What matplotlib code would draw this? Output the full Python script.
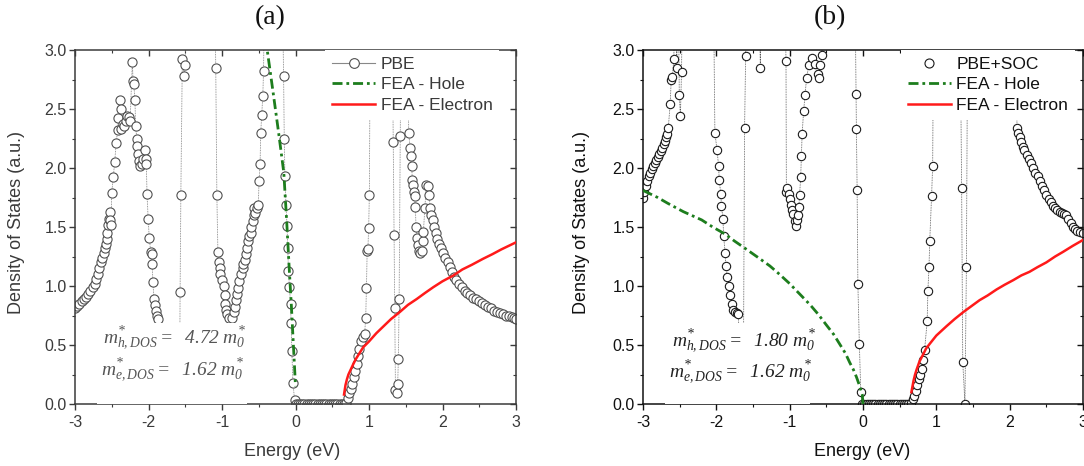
import matplotlib
matplotlib.use('Agg')
import matplotlib.pyplot as plt
from matplotlib.lines import Line2D
from matplotlib.patches import Rectangle
from matplotlib.ticker import MultipleLocator, FormatStrFormatter

plt.rcParams['font.family'] = ['Liberation Sans', 'DejaVu Sans']
plt.rcParams['axes.unicode_minus'] = False
plt.rcParams['mathtext.fontset'] = 'custom'
plt.rcParams['mathtext.rm'] = 'Liberation Serif:italic'
plt.rcParams['mathtext.it'] = 'Liberation Serif:italic'
plt.rcParams['mathtext.bf'] = 'Liberation Serif:bold'

# ---------------- data: panel (a) PBE ----------------
pbe_a_E = [-3.00, -2.97, -2.94, -2.91, -2.88, -2.85, -2.82, -2.79, -2.76, -2.73,
           -2.71, -2.69, -2.67, -2.65, -2.63, -2.61, -2.59, -2.58, -2.57, -2.56,
           -2.55, -2.54, -2.53, -2.52, -2.51, -2.50, -2.48, -2.46, -2.44, -2.42,
           -2.41, -2.39, -2.38, -2.37, -2.35, -2.33, -2.31, -2.29, -2.27, -2.25,
           -2.22, -2.21, -2.20, -2.185, -2.175, -2.16, -2.15, -2.14, -2.13, -2.11,
           -2.09, -2.07, -2.05, -2.04, -2.03, -2.02, -2.005, -1.99, -1.97, -1.955,
           -1.95, -1.94, -1.925, -1.91, -1.895, -1.88, -1.865, -1.85,
           -1.575, -1.57, -1.56, -1.54, -1.52, -1.50, -1.49,
           -1.10, -1.085, -1.07, -1.056, -1.047, -1.033, -1.024, -1.00, -0.976, -0.962,
           -0.953, -0.944, -0.93, -0.906, -0.86, -0.835, -0.82, -0.81, -0.79, -0.78,
           -0.765, -0.74, -0.72, -0.71, -0.69, -0.68, -0.66, -0.65, -0.63, -0.61,
           -0.60, -0.585, -0.567, -0.56, -0.553, -0.53, -0.506, -0.496, -0.482, -0.473,
           -0.459, -0.445, -0.435, -0.42,
           -0.18, -0.162, -0.153, -0.144, -0.13, -0.115, -0.106, -0.096, -0.082, -0.068,
           -0.06, -0.05, -0.035, -0.012,
           0.00, 0.03, 0.06, 0.09, 0.12, 0.15, 0.18, 0.21, 0.24, 0.27, 0.30, 0.33,
           0.36, 0.39, 0.42, 0.45, 0.48, 0.51, 0.54, 0.57, 0.60, 0.63, 0.66,
           0.69, 0.71, 0.73, 0.75, 0.77, 0.79, 0.81, 0.83, 0.85, 0.87,
           0.89, 0.915, 0.94, 0.955, 0.965, 0.975, 0.985, 0.995, 1.005, 1.02,
           1.31, 1.33, 1.34, 1.35, 1.36, 1.375, 1.39, 1.40, 1.41, 1.425, 1.44,
           1.52, 1.54, 1.56, 1.57, 1.58, 1.59, 1.60, 1.61, 1.62, 1.63,
           1.64, 1.65, 1.66, 1.68, 1.70, 1.72, 1.73, 1.74, 1.76, 1.78,
           1.80, 1.82, 1.83, 1.85, 1.87, 1.89, 1.91, 1.93, 1.95, 1.98,
           2.01, 2.04, 2.07, 2.10, 2.13, 2.16, 2.19, 2.22, 2.26, 2.30,
           2.34, 2.38, 2.42, 2.46, 2.50, 2.54, 2.58, 2.62, 2.66, 2.70,
           2.74, 2.78, 2.82, 2.86, 2.90, 2.94, 2.97, 3.00]
pbe_a_D = [0.81, 0.83, 0.85, 0.87, 0.89, 0.91, 0.93, 0.96, 0.99, 1.02,
           1.06, 1.10, 1.15, 1.20, 1.24, 1.28, 1.32, 1.36, 1.40, 1.45,
           1.52, 1.57, 1.63, 1.56, 1.52, 1.79, 1.92, 2.05, 2.21, 2.32,
           2.42, 2.58, 2.50, 2.33, 2.37, 2.36, 2.40, 2.44, 2.43, 2.40,
           2.90, 2.74, 2.71, 2.58, 2.36, 2.25, 2.19, 2.12, 2.06, 2.02,
           2.03, 2.08, 2.15, 2.08, 2.03, 1.78, 1.57, 1.41, 1.29, 1.27,
           1.19, 1.03, 0.89, 0.84, 0.79, 0.75, 0.72, 0.40,
           0.40, 0.95, 1.77, 2.92, 2.78, 2.87, 3.60,
           3.60, 2.85, 1.77, 1.29, 1.20, 1.15, 1.10, 1.05, 1.00, 0.92,
           0.85, 0.80, 0.76, 0.73, 0.73, 0.78, 0.82, 0.88, 0.93, 0.98,
           1.04, 1.10, 1.15, 1.19, 1.22, 1.27, 1.32, 1.38, 1.42, 1.45,
           1.50, 1.55, 1.60, 1.66, 1.62, 1.66, 1.69, 1.89, 2.03, 2.30,
           2.45, 2.61, 2.82, 3.60,
           3.60, 2.78, 2.25, 1.93, 1.69, 1.51, 1.32, 1.13, 0.99, 0.85,
           0.69, 0.45, 0.18, 0.03,
           0.00, 0.00, 0.00, 0.00, 0.00, 0.00, 0.00, 0.00, 0.00, 0.00, 0.00, 0.00,
           0.00, 0.00, 0.00, 0.00, 0.00, 0.00, 0.00, 0.00, 0.00, 0.00, 0.00,
           0.01, 0.05, 0.09, 0.13, 0.17, 0.23, 0.28, 0.34, 0.41, 0.47,
           0.53, 0.57, 0.59, 0.73, 0.98, 1.30, 1.31, 1.49, 1.77, 3.60,
           3.60, 2.22, 1.43, 0.81, 0.12, 0.09, 0.17, 0.38, 0.89, 2.27, 3.60,
           3.60, 2.30, 2.17, 2.10, 2.02, 1.90, 1.86, 1.80, 1.76, 1.67,
           1.50, 1.41, 1.35, 1.30, 1.28, 1.30, 1.38, 1.46, 1.66, 1.86,
           1.85, 1.77, 1.66, 1.60, 1.56, 1.50, 1.45, 1.40, 1.36, 1.32,
           1.28, 1.24, 1.20, 1.16, 1.12, 1.08, 1.05, 1.02, 0.99, 0.96,
           0.94, 0.92, 0.90, 0.89, 0.87, 0.86, 0.84, 0.82, 0.81, 0.79,
           0.78, 0.77, 0.76, 0.75, 0.75, 0.74, 0.73, 0.72]

hole_a_E = [-0.42, -0.385, -0.30, -0.23, -0.159, -0.12, -0.082, -0.055, -0.032, -0.012, 0.0]
hole_a_D = [3.10, 3.00, 2.62, 2.30, 1.96, 1.55, 1.11, 0.82, 0.54, 0.30, 0.15]
elec_a_E = [0.66, 0.67, 0.68, 0.70, 0.72, 0.75, 0.78, 0.82, 0.86, 0.92, 1.00, 1.10, 1.20,
            1.30, 1.42, 1.53, 1.65, 1.76, 1.875, 2.00, 2.15, 2.27, 2.40, 2.55, 2.68, 2.80,
            2.90, 3.00]
elec_a_D = [0.08, 0.12, 0.16, 0.21, 0.25, 0.29, 0.33, 0.38, 0.42, 0.48, 0.53, 0.60, 0.66,
            0.72, 0.78, 0.84, 0.89, 0.94, 0.99, 1.04, 1.09, 1.14, 1.18, 1.23, 1.27, 1.31,
            1.34, 1.37]

# ---------------- data: panel (b) PBE+SOC ----------------
pbe_b_E = [-3.00, -2.98, -2.96, -2.94, -2.92, -2.90, -2.88, -2.86, -2.84, -2.82,
           -2.80, -2.78, -2.76, -2.74, -2.72, -2.70, -2.68, -2.67, -2.655, -2.63,
           -2.615, -2.60, -2.58, -2.56, -2.54, -2.52, -2.505, -2.49, -2.475, -2.46,
           -2.04, -2.02, -1.99, -1.97, -1.96, -1.94, -1.93, -1.91, -1.90, -1.88,
           -1.87, -1.85, -1.83, -1.81, -1.79, -1.77, -1.745, -1.72, -1.70, -1.68,
           -1.63, -1.615, -1.60, -1.59, -1.42, -1.40, -1.38,
           -1.07, -1.05, -1.045, -1.03, -1.01, -1.00, -0.98, -0.97, -0.95, -0.93,
           -0.91, -0.90, -0.89, -0.875, -0.865, -0.85, -0.84, -0.83, -0.81, -0.79,
           -0.77, -0.74, -0.70, -0.66, -0.62, -0.60, -0.58, -0.56, -0.54,
           -0.11, -0.095, -0.09, -0.08, -0.07, -0.05, -0.03,
           -0.01, 0.02, 0.05, 0.08, 0.11, 0.14, 0.17, 0.20, 0.23, 0.26, 0.29,
           0.32, 0.35, 0.38, 0.41, 0.44, 0.47, 0.50, 0.53, 0.56, 0.59, 0.62,
           0.66, 0.68, 0.70, 0.72, 0.74, 0.76, 0.78, 0.80, 0.815, 0.84,
           0.875, 0.885, 0.90, 0.91, 0.935, 0.95, 0.965,
           1.32, 1.345, 1.36, 1.39, 1.41, 1.43,
           2.08, 2.10, 2.12, 2.14, 2.16, 2.18, 2.20, 2.23, 2.26, 2.29,
           2.32, 2.35, 2.38, 2.41, 2.44, 2.47, 2.50, 2.53, 2.56, 2.59,
           2.62, 2.65, 2.68, 2.71, 2.74, 2.77, 2.80, 2.83, 2.86, 2.89,
           2.92, 2.96, 3.00]
pbe_b_D = [1.75, 1.80, 1.85, 1.89, 1.93, 1.96, 1.99, 2.02, 2.04, 2.07,
           2.09, 2.12, 2.14, 2.17, 2.20, 2.23, 2.26, 2.29, 2.34, 2.54,
           2.75, 2.77, 2.92, 3.60, 2.85, 3.60, 2.62, 2.44, 2.81, 3.60,
           3.60, 2.30, 2.15, 2.02, 1.90, 1.78, 1.68, 1.57, 1.42, 1.28,
           1.17, 1.08, 1.00, 0.92, 0.85, 0.80, 0.78, 0.77, 0.76, 0.40,
           0.40, 2.34, 2.95, 3.60, 3.60, 2.85, 3.60,
           3.60, 2.91, 1.80, 1.83, 1.78, 1.74, 1.69, 1.64, 1.61, 1.55,
           1.51, 1.56, 1.60, 1.67, 1.77, 1.92, 2.10, 2.29, 2.48, 2.62,
           2.76, 2.87, 2.93, 2.88, 2.80, 2.76, 2.87, 2.96, 3.60,
           3.60, 2.63, 2.33, 1.81, 1.02, 0.51, 0.10,
           0.00, 0.00, 0.00, 0.00, 0.00, 0.00, 0.00, 0.00, 0.00, 0.00, 0.00,
           0.00, 0.00, 0.00, 0.00, 0.00, 0.00, 0.00, 0.00, 0.00, 0.00, 0.00,
           0.01, 0.04, 0.07, 0.11, 0.16, 0.21, 0.25, 0.30, 0.37, 0.46,
           0.70, 0.96, 1.16, 1.38, 1.76, 2.02, 3.60,
           3.60, 1.83, 0.36, 0.00, 1.16, 3.60,
           3.60, 2.34, 2.30, 2.26, 2.22, 2.18, 2.15, 2.11, 2.08, 2.04,
           2.00, 1.96, 1.93, 1.89, 1.85, 1.81, 1.77, 1.74, 1.71, 1.68,
           1.66, 1.64, 1.63, 1.62, 1.61, 1.60, 1.57, 1.53, 1.50, 1.48,
           1.47, 1.46, 1.45]

hole_b_E = [-3.00, -2.80, -2.66, -2.45, -2.20, -2.05, -1.88, -1.75, -1.61, -1.45, -1.27,
            -1.14, -1.00, -0.86, -0.72, -0.61, -0.50, -0.40, -0.31, -0.24, -0.18, -0.13,
            -0.09, -0.05, -0.03, -0.01, 0.0]
hole_b_D = [1.81, 1.75, 1.70, 1.63, 1.56, 1.50, 1.44, 1.38, 1.32, 1.25, 1.17,
            1.10, 1.02, 0.93, 0.84, 0.76, 0.67, 0.59, 0.50, 0.43, 0.35, 0.29,
            0.23, 0.16, 0.12, 0.08, 0.0]
elec_b_E = [0.66, 0.675, 0.69, 0.71, 0.73, 0.77, 0.82, 0.86, 0.91, 1.00, 1.07, 1.14, 1.25,
            1.37, 1.48, 1.59, 1.70, 1.82, 1.93, 2.05, 2.16, 2.27, 2.38, 2.50, 2.62, 2.73,
            2.86, 3.00]
elec_b_D = [0.10, 0.15, 0.20, 0.25, 0.29, 0.36, 0.42, 0.47, 0.51, 0.58, 0.62, 0.66, 0.72,
            0.78, 0.83, 0.88, 0.92, 0.97, 1.01, 1.05, 1.09, 1.12, 1.16, 1.20, 1.25, 1.29,
            1.34, 1.39]

x_ticks = [-3, -2, -1, 0, 1, 2, 3]
titles = ['(a)', '(b)']
legend_a = ['PBE', 'FEA - Hole', 'FEA - Electron']
legend_b = ['PBE+SOC', 'FEA - Hole', 'FEA - Electron']
notes_a = [r'$m^{*}_{h,DOS}=\ \ 4.72\ m^{*}_{0}$', r'$m^{*}_{e,DOS}=\ \ 1.62\ m^{*}_{0}$']
notes_b = [r'$m^{*}_{h,DOS}=\ \ 1.80\ m^{*}_{0}$', r'$m^{*}_{e,DOS}=\ \ 1.62\ m^{*}_{0}$']

W, H = 1084, 466
fig = plt.figure(figsize=(W / 100, H / 100), dpi=100)


def add_ax(l, r, t, b):
    return fig.add_axes([l / W, 1 - b / H, (r - l) / W, (b - t) / H])


GREEN = '#1d7d1d'
RED = '#ff1a1a'
DASHDOT = (0, (3.6, 1.4, 1.0, 1.4))


def style(ax, col):
    ax.set_xlim(-3, 3)
    ax.set_ylim(0, 3)
    ax.set_xticks(x_ticks)
    ax.xaxis.set_minor_locator(MultipleLocator(0.5))
    ax.yaxis.set_major_locator(MultipleLocator(0.5))
    ax.yaxis.set_minor_locator(MultipleLocator(0.25))
    ax.yaxis.set_major_formatter(FormatStrFormatter('%.1f'))
    ax.tick_params(which='both', direction='out', colors=col, labelcolor=col,
                   labelsize=11.5, top=False, right=False)
    ax.tick_params(which='major', length=4, width=1.0)
    ax.tick_params(which='minor', length=2.5, width=0.8)
    ax.tick_params(axis='y', pad=2)
    ax.tick_params(axis='x', pad=4)
    for s in ax.spines.values():
        s.set_color(col)
        s.set_linewidth(1.1)
    top = ax.secondary_xaxis('top')
    top.set_xticks(x_ticks)
    top.xaxis.set_minor_locator(MultipleLocator(0.5))
    top.tick_params(which='both', direction='in', labeltop=False, colors=col)
    top.tick_params(which='major', length=4, width=1.0)
    top.tick_params(which='minor', length=2.5, width=0.8)
    top.spines['top'].set_visible(False)
    rgt = ax.secondary_yaxis('right')
    rgt.yaxis.set_major_locator(MultipleLocator(0.5))
    rgt.yaxis.set_minor_locator(MultipleLocator(0.25))
    rgt.tick_params(which='both', direction='in', labelright=False, colors=col)
    rgt.tick_params(which='major', length=4, width=1.0)
    rgt.tick_params(which='minor', length=2.5, width=0.8)
    rgt.spines['right'].set_visible(False)


panels = [
    dict(ax=add_ax(75, 516, 50, 404), col='#3a3a3a', E=pbe_a_E, D=pbe_a_D,
         hE=hole_a_E, hD=hole_a_D, eE=elec_a_E, eD=elec_a_D, mec='#505050',
         lcol='#7a7a7a', ms=6.6, labels=legend_a, notes=notes_a, ncol='#555555',
         nx=[-2.62, -2.65], ny=[0.56, 0.29], box=(-2.7, -0.66), legx=0.567,
         title_x=270, ylab_x=-0.113, xlab_x=0.492, pbe_line=True),
    dict(ax=add_ax(643, 1083, 50, 404), col='#111111', E=pbe_b_E, D=pbe_b_D,
         hE=hole_b_E, hD=hole_b_D, eE=elec_b_E, eD=elec_b_D, mec='#1a1a1a',
         lcol='#555555', ms=6.0, labels=legend_b, notes=notes_b, ncol='#222222',
         nx=[-2.60, -2.65], ny=[0.53, 0.27], box=(-2.7, -0.72), legx=0.586,
         title_x=830, ylab_x=-0.12, xlab_x=0.498, pbe_line=False),
]

for i, p in enumerate(panels):
    ax = p['ax']
    style(ax, p['col'])
    ax.plot(p['E'], p['D'], ls=(0, (1, 1)), lw=0.6, color=p['lcol'], zorder=2)
    ax.plot(p['E'], p['D'], ls='none', marker='o', ms=p['ms'], mfc='white',
            mec=p['mec'], mew=0.8, zorder=2.5)
    bx0, bx1 = p['box']
    ax.add_patch(Rectangle((bx0, 0.0), bx1 - bx0, 0.69, fc='white', ec='none', zorder=3))
    ax.plot(p['hE'], p['hD'], color=GREEN, lw=2.0, ls=DASHDOT, zorder=4)
    ax.plot(p['eE'], p['eD'], color=RED, lw=1.8, zorder=4)
    for txt, x, y in zip(p['notes'], p['nx'], p['ny']):
        ax.text(x, y, txt, fontsize=14, color=p['ncol'], ha='left', va='center', zorder=5)

    if p['pbe_line']:
        h0 = Line2D([], [], color='#888888', lw=0.8, marker='o', ms=7, mfc='white',
                    mec=p['mec'], mew=0.8)
    else:
        h0 = Line2D([], [], ls='none', marker='o', ms=6.5, mfc='white', mec=p['mec'], mew=0.8)
    h1 = Line2D([], [], color=GREEN, lw=2.0, ls=DASHDOT)
    h2 = Line2D([], [], color=RED, lw=1.8)
    leg = ax.legend([h0, h1, h2], p['labels'], loc='upper left',
                    bbox_to_anchor=(p['legx'], 1.0), frameon=True, fancybox=False,
                    edgecolor='none', facecolor='white', framealpha=1, fontsize=12.5,
                    handlelength=2.5, handletextpad=0.3, labelspacing=0.3,
                    borderpad=0.4, borderaxespad=0.0, numpoints=1)
    for t in leg.get_texts():
        t.set_color(p['col'])
    leg.set_zorder(6)

    ax.set_xlabel('Energy (eV)', fontsize=13, color=p['col'])
    ax.set_ylabel('Density of States (a.u.)', fontsize=13, color=p['col'])
    ax.xaxis.set_label_coords(p['xlab_x'], -0.11)
    ax.yaxis.set_label_coords(p['ylab_x'], 0.514)
    fig.text(p['title_x'] / W, 1 - 18 / H, titles[i], ha='center', va='center',
             fontsize=20, family='Liberation Serif', color='#111111')

fig.savefig('out.png', dpi=100)
